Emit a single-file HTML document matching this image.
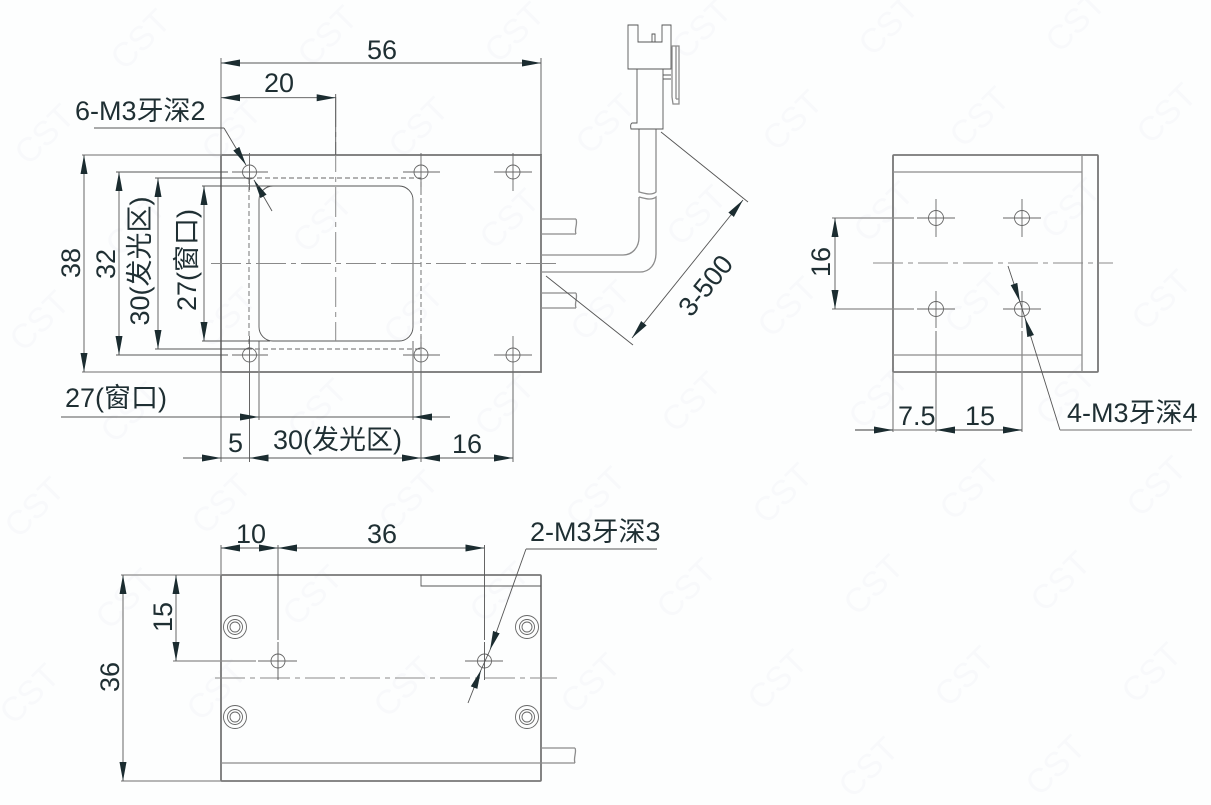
<!DOCTYPE html>
<html><head><meta charset="utf-8"><style>
html,body{margin:0;padding:0;background:#fdfefe;overflow:hidden}
svg{display:block}
text{font-family:"Liberation Sans","Noto Sans CJK SC",sans-serif;font-size:27px;fill:#1f2f33}
.wm text{font-size:34px;fill:#f8f9fb;text-anchor:middle}
.t{stroke:#555;stroke-width:.9;fill:none}
.m{stroke:#8c8c8c;stroke-width:1.3;fill:none}
.o{stroke:#777;stroke-width:1.8;fill:none}
.c{stroke:#8a8a8a;stroke-width:1;fill:none;stroke-dasharray:30 5 5 5}
.d{stroke:#666;stroke-width:.9;fill:none;stroke-dasharray:5 3}
.a{stroke:#555;stroke-width:.9;fill:none;marker-end:url(#a)}
.b{stroke:#555;stroke-width:.9;fill:none;marker-end:url(#a);marker-start:url(#a)}
.h{stroke:#666;stroke-width:.9;fill:none}
</style></head><body>
<svg width="1211" height="805" viewBox="0 0 1211 805" xmlns="http://www.w3.org/2000/svg">
<defs><marker id="a" markerUnits="userSpaceOnUse" markerWidth="20" markerHeight="10" refX="19" refY="5" orient="auto-start-reverse"><path d="M0,1.500 L19,5 L0,8.500z" fill="#1b2c30"/></marker></defs>
<rect width="1211" height="805" fill="#fdfefe"/>
<g class="wm">
<text y="12" transform="translate(140,39) rotate(-45)">CST</text>
<text y="12" transform="translate(327,35.500) rotate(-45)">CST</text>
<text y="12" transform="translate(514,32) rotate(-45)">CST</text>
<text y="12" transform="translate(701,28.500) rotate(-45)">CST</text>
<text y="12" transform="translate(888,25) rotate(-45)">CST</text>
<text y="12" transform="translate(1075,21.500) rotate(-45)">CST</text>
<text y="12" transform="translate(44,134) rotate(-45)">CST</text>
<text y="12" transform="translate(231,130.500) rotate(-45)">CST</text>
<text y="12" transform="translate(418,127) rotate(-45)">CST</text>
<text y="12" transform="translate(605,123.500) rotate(-45)">CST</text>
<text y="12" transform="translate(792,120) rotate(-45)">CST</text>
<text y="12" transform="translate(979,116.500) rotate(-45)">CST</text>
<text y="12" transform="translate(1166,113) rotate(-45)">CST</text>
<text y="12" transform="translate(135,225.500) rotate(-45)">CST</text>
<text y="12" transform="translate(322,222) rotate(-45)">CST</text>
<text y="12" transform="translate(509,218.500) rotate(-45)">CST</text>
<text y="12" transform="translate(696,215) rotate(-45)">CST</text>
<text y="12" transform="translate(883,211.500) rotate(-45)">CST</text>
<text y="12" transform="translate(1070,208) rotate(-45)">CST</text>
<text y="12" transform="translate(39,320.500) rotate(-45)">CST</text>
<text y="12" transform="translate(226,317) rotate(-45)">CST</text>
<text y="12" transform="translate(413,313.500) rotate(-45)">CST</text>
<text y="12" transform="translate(600,310) rotate(-45)">CST</text>
<text y="12" transform="translate(787,306.500) rotate(-45)">CST</text>
<text y="12" transform="translate(974,303) rotate(-45)">CST</text>
<text y="12" transform="translate(1161,299.500) rotate(-45)">CST</text>
<text y="12" transform="translate(130,412) rotate(-45)">CST</text>
<text y="12" transform="translate(317,408.500) rotate(-45)">CST</text>
<text y="12" transform="translate(504,405) rotate(-45)">CST</text>
<text y="12" transform="translate(691,401.500) rotate(-45)">CST</text>
<text y="12" transform="translate(878,398) rotate(-45)">CST</text>
<text y="12" transform="translate(1065,394.500) rotate(-45)">CST</text>
<text y="12" transform="translate(34,507) rotate(-45)">CST</text>
<text y="12" transform="translate(221,503.500) rotate(-45)">CST</text>
<text y="12" transform="translate(408,500) rotate(-45)">CST</text>
<text y="12" transform="translate(595,496.500) rotate(-45)">CST</text>
<text y="12" transform="translate(782,493) rotate(-45)">CST</text>
<text y="12" transform="translate(969,489.500) rotate(-45)">CST</text>
<text y="12" transform="translate(1156,486) rotate(-45)">CST</text>
<text y="12" transform="translate(125,598.500) rotate(-45)">CST</text>
<text y="12" transform="translate(312,595) rotate(-45)">CST</text>
<text y="12" transform="translate(499,591.500) rotate(-45)">CST</text>
<text y="12" transform="translate(686,588) rotate(-45)">CST</text>
<text y="12" transform="translate(873,584.500) rotate(-45)">CST</text>
<text y="12" transform="translate(1060,581) rotate(-45)">CST</text>
<text y="12" transform="translate(29,693.500) rotate(-45)">CST</text>
<text y="12" transform="translate(216,690) rotate(-45)">CST</text>
<text y="12" transform="translate(403,686.500) rotate(-45)">CST</text>
<text y="12" transform="translate(590,683) rotate(-45)">CST</text>
<text y="12" transform="translate(777,679.500) rotate(-45)">CST</text>
<text y="12" transform="translate(964,676) rotate(-45)">CST</text>
<text y="12" transform="translate(1151,672.500) rotate(-45)">CST</text>
<text y="12" transform="translate(868,767) rotate(-45)">CST</text>
<text y="12" transform="translate(1055,765) rotate(-45)">CST</text>
</g>

<!-- FRONT VIEW -->
<rect x="221" y="155" width="320" height="217" class="o"/>
<rect x="259" y="186" width="154" height="155" rx="14" class="t"/>
<rect x="249" y="178" width="172" height="171" class="d"/>
<path class="c" d="M211,263.500H556"/>
<path class="c" d="M335.700,97V341"/>
<g class="h">
<circle cx="249.500" cy="172" r="7"/><circle cx="421" cy="172" r="7"/><circle cx="513" cy="172" r="7"/>
<circle cx="249.500" cy="355" r="7"/><circle cx="421" cy="355" r="7"/><circle cx="513" cy="355" r="7"/>
<path d="M403,172H440M494,172H532M494,355H532M403,355H440M232,172H268M232,355H268"/>
<path d="M249.500,153V190M421,153V190M513,153V191M513,336V373M249.500,336V373M421,336V373"/>
</g>
<path class="m" d="M221,58V155M221,372V462M259,341V420M413,341V420"/>
<path class="t" d="M541,58V155M335.700,94V155M249.500,373V462M421,373V462M513,373V462"/>
<path class="b" d="M221,63H541"/>
<path class="b" d="M221,97.700H335.700"/>
<text x="367" y="59">56</text>
<text x="264" y="92">20</text>
<text x="75" y="120">6-M3牙深2</text>
<path class="t" d="M94,128H224"/>
<path class="a" d="M224,128L246,165"/>
<path class="a" d="M272,211L254,180"/>
<path class="m" d="M82,155H221M82,372H221"/>
<path class="t" d="M116,172H228M116,355H228M155,178H249M155,349H249M202,186H275M202,341H270"/>
<path class="b" d="M84,155V372"/>
<path class="b" d="M119,172V355"/>
<path class="b" d="M158,178V349"/>
<path class="b" d="M204,186V341"/>
<text transform="translate(80,263) rotate(-90)" text-anchor="middle">38</text>
<text transform="translate(115,264) rotate(-90)" text-anchor="middle">32</text>
<text transform="translate(149,261) rotate(-90)" text-anchor="middle">30(发光区)</text>
<text transform="translate(196,260) rotate(-90)" text-anchor="middle">27(窗口)</text>
<text x="65" y="407">27(窗口)</text>
<path class="t" d="M259,417H413"/>
<path class="a" d="M61,417H259"/>
<path class="a" d="M450,417H413"/>
<path class="t" d="M183,458H513"/>
<path class="a" d="M183,458H221"/>
<path class="b" d="M249.500,458H421"/>
<path class="b" d="M421,458H513"/>
<text x="228" y="452">5</text>
<text x="273" y="449">30(发光区)</text>
<text x="452" y="453">16</text>
<!-- cable and connector -->
<path class="m" d="M541,219H576M541,234H576M576,219C578,224 574,229 576,234"/>
<path class="m" d="M541,293H576M541,308H576M576,293C578,298 574,303 576,308"/>
<path class="m" d="M639,129V192C644,193 651,196 656,192V129"/>
<path class="m" d="M639,197C644,198 651,201 656,197V253C656,264 650,272 640,272H541"/>
<path class="m" d="M639,197V237C639,248 632,255 623,255H541"/>
<path class="t" d="M628,25H638V42H662V25H671V69H628Z"/>
<path class="t" d="M652,34H655V42H652Z"/>
<path class="t" d="M637,69V123H632Q630,124 631,129H663V69"/>
<path class="m" d="M671,46H679V104H673L672,97V46M676,46V99M679,99H676"/>
<path class="t" d="M663,75H671M663,79H671"/>
<path class="t" d="M661,132L748,202M546,276L633,345"/>
<path class="b" d="M632,338L743,200"/>
<text transform="translate(705,285) rotate(-51)" text-anchor="middle" y="10">3-500</text>

<!-- RIGHT VIEW -->
<rect x="893" y="155" width="205" height="217" class="o" rx="1"/>
<path class="m" d="M1082,155V372M893,172H1082M893,355H1082"/>
<g class="h">
<circle cx="936" cy="218" r="7.500"/><circle cx="1022" cy="218" r="7.500"/>
<circle cx="936" cy="309" r="7.500"/><circle cx="1022" cy="309" r="7.500"/>
<path d="M917,218H955M1003,218H1041M917,309H955M1003,309H1041M936,199V237M1022,199V237M936,291V328M1022,291V328"/>
</g>
<path class="c" d="M873,263H1113"/>
<path class="m" d="M832,218H914M832,309H914"/>
<path class="m" d="M893,372V432M936,331V432M1022,331V432"/>
<path class="b" d="M835,218V309"/>
<text transform="translate(830,262) rotate(-90)" text-anchor="middle">16</text>
<path class="m" d="M855,430H1022"/>
<path class="a" d="M855,430H893"/>
<path class="b" d="M936,430H1022"/>
<text x="898" y="425">7.5</text>
<text x="965" y="425">15</text>
<text x="1067" y="422">4-M3牙深4</text>
<path class="t" d="M1020,302L1025,318"/>
<path class="a" d="M1008,266L1020,302"/>
<path class="a" d="M1060,430L1025,318"/>
<path class="m" d="M1060,430H1192"/>

<!-- BOTTOM VIEW -->
<rect x="221" y="575" width="320" height="206" class="o" rx="1"/>
<path class="m" d="M221,763H541"/>
<path class="t" d="M421,575V586H541"/>
<path class="m" d="M541,748H575M541,763H575M575,748C577,752 573,758 575,763"/>
<path class="c" d="M215,678H557"/>
<g class="h">
<circle cx="235" cy="627" r="11.500"/><circle cx="235" cy="627" r="7.500"/><circle cx="235" cy="627" r="5"/>
<circle cx="235" cy="717" r="11.500"/><circle cx="235" cy="717" r="7.500"/><circle cx="235" cy="717" r="5"/>
<circle cx="527" cy="627" r="11.500"/><circle cx="527" cy="627" r="7.500"/><circle cx="527" cy="627" r="5"/>
<circle cx="527" cy="717" r="11.500"/><circle cx="527" cy="717" r="7.500"/><circle cx="527" cy="717" r="5"/>
<circle cx="278" cy="661" r="7"/><circle cx="484.500" cy="661" r="7"/>
<path d="M258,661H297M465,661H503"/>
</g>
<path class="m" d="M221,545V575M173,575H221M121,781H221M121,575H173M173,661H256"/>
<path class="t" d="M278,545V640M278,642V680M484.500,545V640M484.500,642V680"/>
<path class="b" d="M221,548H278"/>
<path class="b" d="M278,548H484.500"/>
<path class="b" d="M123,575V781"/>
<path class="b" d="M176,575V661"/>
<text x="236" y="543">10</text>
<text x="367" y="543">36</text>
<text transform="translate(172,617) rotate(-90)" text-anchor="middle">15</text>
<text transform="translate(119,677) rotate(-90)" text-anchor="middle">36</text>
<text x="530" y="541">2-M3牙深3</text>
<path class="t" d="M657,549H526"/>
<path class="a" d="M526,549L490,650"/>
<path class="a" d="M468,703L481,670"/>
<path class="t" d="M490,650L481,670"/>
</svg>
</body></html>
